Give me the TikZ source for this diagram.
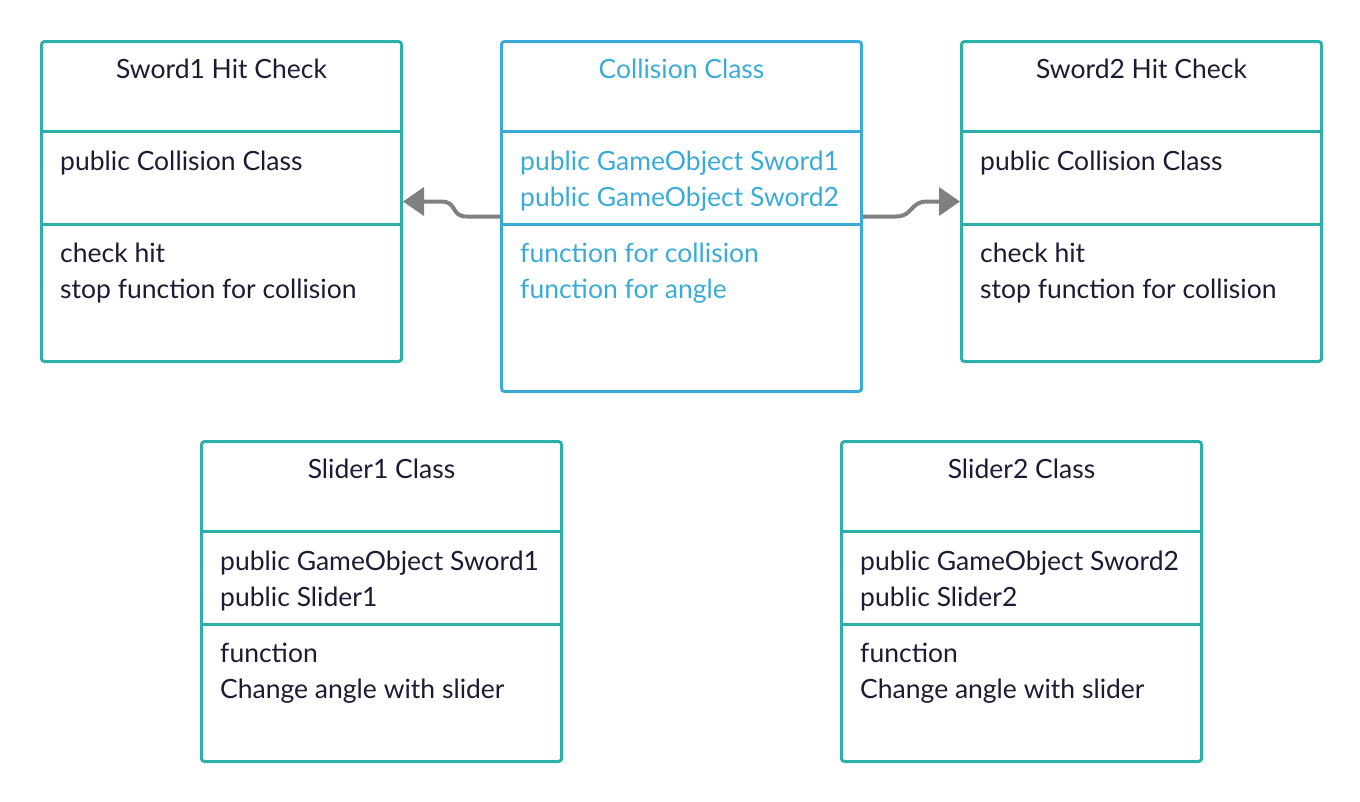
\documentclass[tikz,border=0pt]{standalone}
\usepackage{fontspec}
\setmainfont{Lato}
\usetikzlibrary{positioning,calc,arrows.meta}
\definecolor{boxteal}{HTML}{2BB0AA}
\definecolor{collblue}{HTML}{3AABD9}
\definecolor{txtdark}{HTML}{1C1B33}
\definecolor{linkgray}{HTML}{808080}
\tikzset{
  classbox/.style={draw=#1, line width=3pt, rounded corners=3pt, minimum width=360pt, inner sep=0pt, anchor=north west},
  divider/.style={draw=#1, line width=3pt},
  classtitle/.style={anchor=base, font=\fontsize{26.5}{36}\selectfont, inner sep=0pt},
  classtext/.style={anchor=base west, align=left, font=\fontsize{26.5}{36}\selectfont, inner sep=0pt},
  link/.style={draw=linkgray, line width=4pt, -{Triangle[length=21pt,width=28pt]}}
}
\begin{document}
\begin{tikzpicture}[x=1pt,y=-1pt]
\useasboundingbox (0,0) rectangle (1360,801);

\node[classbox=boxteal, minimum height=320pt] (sword1) at (40,40) {};
\node[classbox=collblue, minimum height=350pt] (coll) at (500,40) {};
\node[classbox=boxteal, minimum height=320pt] (sword2) at (960,40) {};
\node[classbox=boxteal, minimum height=320pt] (slider1) at (200,440) {};
\node[classbox=boxteal, minimum height=320pt] (slider2) at (840,440) {};

\draw[divider=boxteal] ($(sword1.north west)+(0,91)$) -- ($(sword1.north east)+(0,91)$)
  ($(sword1.north west)+(0,184)$) -- ($(sword1.north east)+(0,184)$);
\draw[divider=collblue] ($(coll.north west)+(0,91)$) -- ($(coll.north east)+(0,91)$)
  ($(coll.north west)+(0,184)$) -- ($(coll.north east)+(0,184)$);
\draw[divider=boxteal] ($(sword2.north west)+(0,91)$) -- ($(sword2.north east)+(0,91)$)
  ($(sword2.north west)+(0,184)$) -- ($(sword2.north east)+(0,184)$);
\draw[divider=boxteal] ($(slider1.north west)+(0,91)$) -- ($(slider1.north east)+(0,91)$)
  ($(slider1.north west)+(0,184)$) -- ($(slider1.north east)+(0,184)$);
\draw[divider=boxteal] ($(slider2.north west)+(0,91)$) -- ($(slider2.north east)+(0,91)$)
  ($(slider2.north west)+(0,184)$) -- ($(slider2.north east)+(0,184)$);

\node[classtitle, text=txtdark] (sword1title) at ($(sword1.north)+(0,38)$) {Sword1 Hit Check};
\node[classtext, text=txtdark] (sword1attr) at ($(sword1.north west)+(20,130)$) {public Collision Class};
\node[classtext, text=txtdark] (sword1ops) at ($(sword1.north west)+(20,258)$) {check hit\\stop function for collision};

\node[classtitle, text=collblue] (colltitle) at ($(coll.north)+(0,38)$) {Collision Class};
\node[classtext, text=collblue] (collattr) at ($(coll.north west)+(20,166)$) {public GameObject Sword1\\public GameObject Sword2};
\node[classtext, text=collblue] (collops) at ($(coll.north west)+(20,258)$) {function for collision\\function for angle};

\node[classtitle, text=txtdark] (sword2title) at ($(sword2.north)+(0,38)$) {Sword2 Hit Check};
\node[classtext, text=txtdark] (sword2attr) at ($(sword2.north west)+(20,130)$) {public Collision Class};
\node[classtext, text=txtdark] (sword2ops) at ($(sword2.north west)+(20,258)$) {check hit\\stop function for collision};

\node[classtitle, text=txtdark] (slider1title) at ($(slider1.north)+(0,38)$) {Slider1 Class};
\node[classtext, text=txtdark] (slider1attr) at ($(slider1.north west)+(20,166)$) {public GameObject Sword1\\public Slider1};
\node[classtext, text=txtdark] (slider1ops) at ($(slider1.north west)+(20,258)$) {function\\Change angle with slider};

\node[classtitle, text=txtdark] (slider2title) at ($(slider2.north)+(0,38)$) {Slider2 Class};
\node[classtext, text=txtdark] (slider2attr) at ($(slider2.north west)+(20,166)$) {public GameObject Sword2\\public Slider2};
\node[classtext, text=txtdark] (slider2ops) at ($(slider2.north west)+(20,258)$) {function\\Change angle with slider};

\draw[link] (coll.west) -- ++(-33,0) .. controls +(-17,0) and +(17,0) .. ($(sword1.east)+(38,0)$) -- (sword1.east);
\draw[link] (coll.east) -- ++(33,0) .. controls +(17,0) and +(-17,0) .. ($(sword2.west)+(-33,0)$) -- (sword2.west);
\end{tikzpicture}
\end{document}
